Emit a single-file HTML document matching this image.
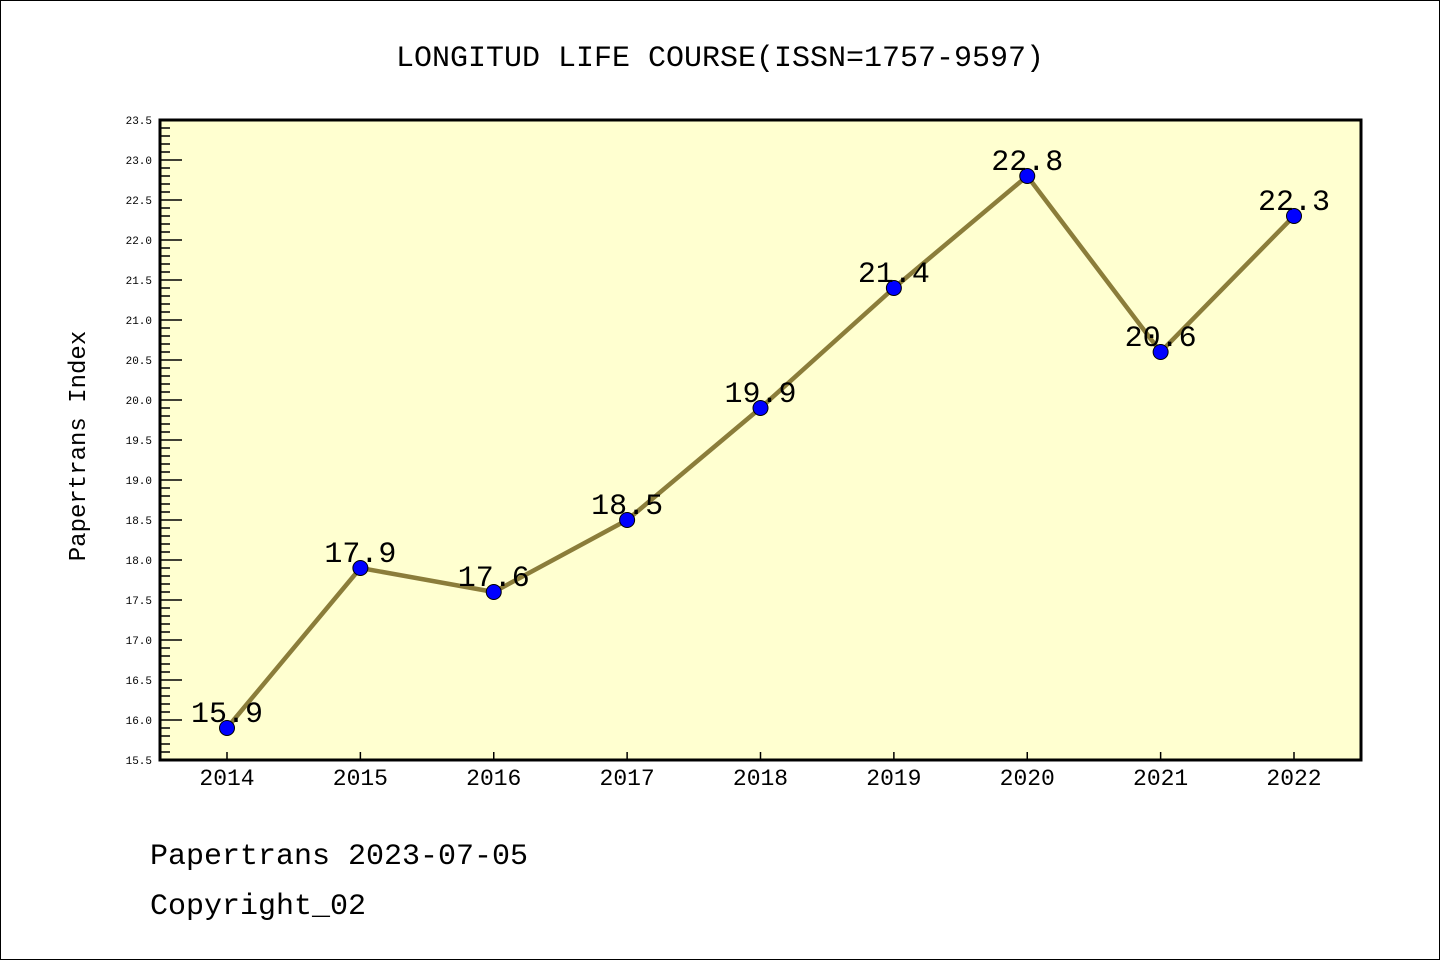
<!DOCTYPE html>
<html><head><meta charset="utf-8"><style>
html,body{margin:0;padding:0;background:#fff;}
svg{display:block;}
text{font-family:"Liberation Mono","DejaVu Sans Mono",monospace;}
</style></head><body>
<svg id="chart" width="1440" height="960">
<rect x="0.5" y="0.5" width="1439" height="959" fill="#fff" stroke="#000"/>
<text x="720" y="66" text-anchor="middle" font-size="30">LONGITUD LIFE COURSE(ISSN=1757-9597)</text>
<rect x="160" y="120" width="1201" height="640" fill="#ffffd0" stroke="#000" stroke-width="3"/>
<text transform="translate(85,446) rotate(-90)" text-anchor="middle" font-size="24">Papertrans Index</text>
<text x="150" y="864" font-size="30">Papertrans 2023-07-05</text>
<text x="150" y="914" font-size="30">Copyright_02</text>
<g id="g"></g>
</svg>
<script>
const categories=["2014","2015","2016","2017","2018","2019","2020","2021","2022"];
const values=[15.9,17.9,17.6,18.5,19.9,21.4,22.8,20.6,22.3];
const yTicks=["15.5","16.0","16.5","17.0","17.5","18.0","18.5","19.0","19.5","20.0","20.5","21.0","21.5","22.0","22.5","23.0","23.5"];
const yMin=15.5,yMax=23.5;
const y=v=>760-(v-yMin)/(yMax-yMin)*640;
const x=i=>227+i*(1294-227)/(categories.length-1);
const g=document.getElementById('g');
const NS='http://www.w3.org/2000/svg';
function mk(t,a){const e=document.createElementNS(NS,t);for(const k in a)e.setAttribute(k,a[k]);g.appendChild(e);return e;}
for(let v=yMin;v<=yMax+1e-9;v+=0.1){
  const major=Math.abs(v*2-Math.round(v*2))<1e-6;
  const e=mk('line',{x1:160,x2:major?182:170,y1:y(v),y2:y(v),stroke:'#000','stroke-width':1.5});
  
  
}
yTicks.forEach(t=>{
  const e=mk('text',{x:152,y:y(+t)+4,'text-anchor':'end','font-size':11,'font-family':'Liberation Sans, sans-serif'});
  e.textContent=t;
  
  
});
categories.forEach((c,i)=>{
  const t=mk('line',{x1:x(i),x2:x(i),y1:760,y2:752,stroke:'#000','stroke-width':1.5});
  
  
  const e=mk('text',{x:x(i),y:785,'text-anchor':'middle','font-size':23,'font-family':'Liberation Sans, sans-serif'});
  e.textContent=c;
  
  
});
const pl=mk('polyline',{points:values.map((v,i)=>x(i)+','+y(v)).join(' '),fill:'none',stroke:'#8b7d3a','stroke-width':4.5});


values.forEach((v,i)=>{
  const c=mk('circle',{cx:x(i),cy:y(v),r:7.5,fill:'#0000ff',stroke:'#000','stroke-width':1});
  
  
  const t=mk('text',{x:x(i),y:y(v)-6,'text-anchor':'middle','font-size':30,'font-family':'Liberation Sans, sans-serif'});
  t.textContent=v.toFixed(1);
  
  
});
</script>
</body></html>
